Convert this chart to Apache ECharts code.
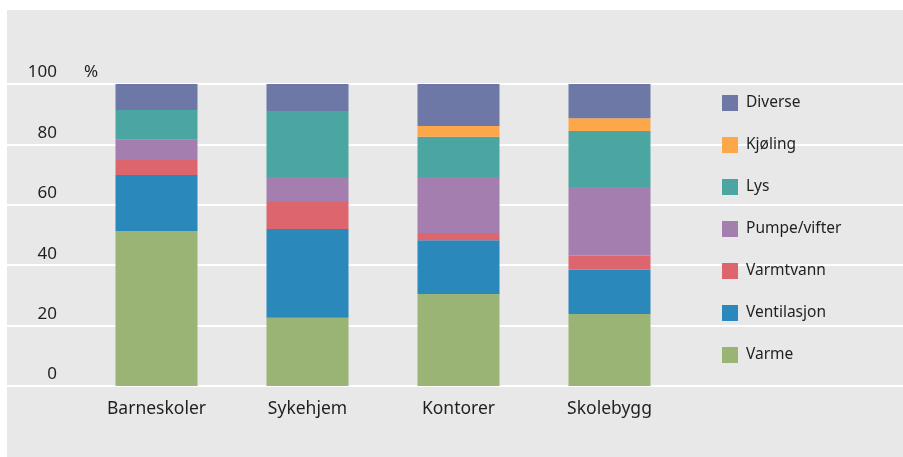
<!DOCTYPE html>
<html>
<head>
<meta charset="utf-8">
<script src="https://cdn.jsdelivr.net/npm/echarts@6/dist/echarts.min.js"></script>
<style>
  html, body { margin: 0; padding: 0; background: #ffffff; }
  #panel { position: absolute; left: 7px; top: 10px; width: 896px; height: 447px; background: #e7e8e7; }
  #chart { position: absolute; left: 0; top: 0; width: 903px; height: 457px; }
</style>
</head>
<body>
<div id="panel"></div>
<div id="chart"></div>
<script>
// Energy use by purpose, share (%) per building type
const categories = ['Barneskoler', 'Sykehjem', 'Kontorer', 'Skolebygg'];

const varme       = [51.3, 22.6, 30.5, 23.8];
const ventilasjon = [18.6, 29.4, 17.8, 14.7];
const varmtvann   = [4.9, 8.9, 2.4, 4.7];
const pumpeVifter = [6.7, 8.3, 18.5, 22.7];
const lys         = [9.9, 21.9, 13.3, 18.5];
const kjoling     = [0, 0, 3.6, 4.3];
const diverse     = [8.6, 8.9, 13.9, 11.3];

const yTicks = [0, 20, 40, 60, 80, 100];

const seriesDefs = [
  { name: 'Varme',        data: varme,       color: '#99b474' },
  { name: 'Ventilasjon',  data: ventilasjon, color: '#2b88bb' },
  { name: 'Varmtvann',    data: varmtvann,   color: '#dd666e' },
  { name: 'Pumpe/vifter', data: pumpeVifter, color: '#a37eae' },
  { name: 'Lys',          data: lys,         color: '#4ba5a1' },
  { name: 'Kjøling',      data: kjoling,     color: '#fba74a' },
  { name: 'Diverse',      data: diverse,     color: '#6e78a6' }
];

const FONT = '"Noto Sans", "Open Sans", sans-serif';
const TEXT = '#1f1f1f';

const chart = echarts.init(document.getElementById('chart'), null, { renderer: 'canvas' });

chart.setOption({
  backgroundColor: 'transparent',
  animation: false,
  textStyle: { fontFamily: FONT, color: TEXT },
  grid: [
    // full-width grid carrying the horizontal guide lines and tick labels
    { left: 7, right: 0, top: 84, height: 302 },
    // grid holding the stacked bars
    { left: 81, width: 604, top: 84, height: 302 }
  ],
  xAxis: [
    { gridIndex: 0, type: 'value', min: 0, max: 1, show: false },
    {
      gridIndex: 1, type: 'category', data: categories,
      axisLine: { show: false }, axisTick: { show: false },
      axisLabel: { fontSize: 17.5, color: TEXT, fontFamily: FONT, margin: 14 }
    }
  ],
  yAxis: [
    {
      gridIndex: 0, type: 'value', min: yTicks[0], max: yTicks[yTicks.length - 1], interval: 20,
      axisLine: { show: false }, axisTick: { show: false },
      splitLine: { show: true, lineStyle: { color: '#ffffff', width: 2 } },
      axisLabel: {
        inside: true, align: 'right', margin: 50, verticalAlign: 'bottom',
        fontSize: 17, color: TEXT, fontFamily: FONT, padding: [0, 0, 3, 0]
      }
    },
    {
      gridIndex: 1, type: 'value', min: 0, max: 100,
      name: '%', nameLocation: 'end', nameGap: 3,
      nameTextStyle: { fontSize: 17, color: TEXT, fontFamily: FONT, align: 'left', padding: [0, 0, 0, 3] },
      axisLine: { show: false }, axisTick: { show: false },
      axisLabel: { show: false }, splitLine: { show: false }
    }
  ],
  legend: {
    orient: 'vertical',
    left: 722,
    top: 95,
    padding: 0,
    itemWidth: 16,
    itemHeight: 16,
    itemGap: 26,
    icon: 'rect',
    data: ['Diverse', 'Kjøling', 'Lys', 'Pumpe/vifter', 'Varmtvann', 'Ventilasjon', 'Varme'],
    textStyle: { fontSize: 15.5, color: TEXT, fontFamily: FONT, lineHeight: 16, padding: [0, 0, 0, 3] }
  },
  series: seriesDefs.map(s => ({
    name: s.name,
    type: 'bar',
    stack: 'total',
    xAxisIndex: 1,
    yAxisIndex: 1,
    barWidth: 82,
    data: s.data,
    itemStyle: { color: s.color },
    emphasis: { disabled: true }
  }))
});
</script>
</body>
</html>
